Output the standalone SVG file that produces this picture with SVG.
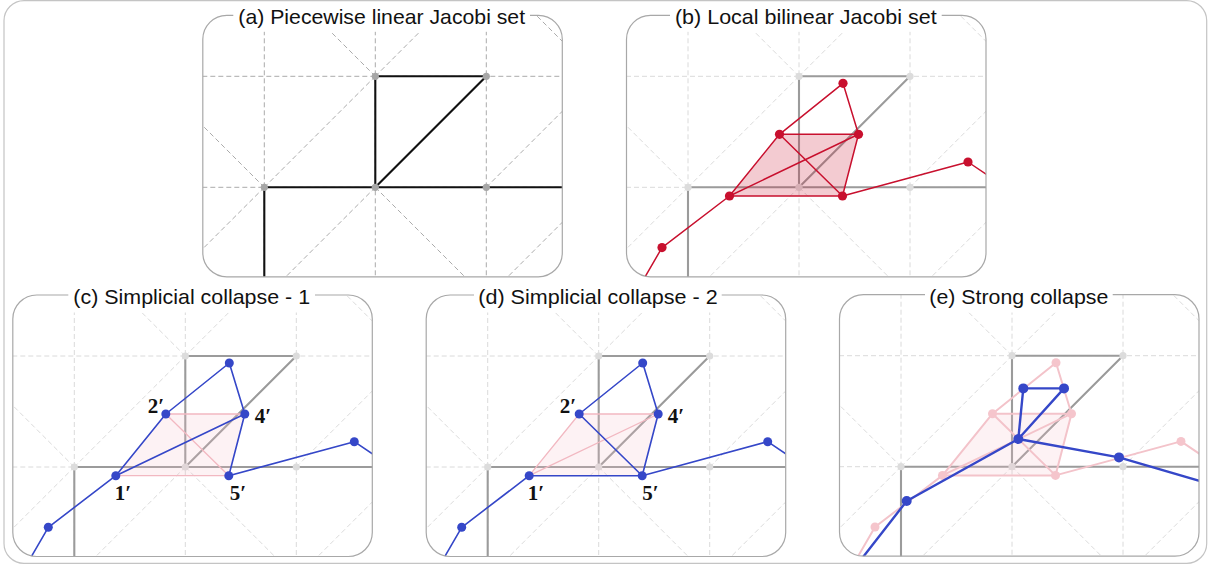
<svg xmlns="http://www.w3.org/2000/svg" xmlns:xlink="http://www.w3.org/1999/xlink" width="1211" height="572" viewBox="0 0 1211 572">
<style>
.t{font-family:"Liberation Sans",Arial,sans-serif;font-size:21px;fill:#111;text-anchor:middle}
.lbl{font-family:"Liberation Serif","Times New Roman",serif;font-weight:bold;font-size:21px;fill:#111}
.frame{fill:none;stroke:#a8a8a8;stroke-width:1.2}
.outer{fill:none;stroke:#c4c4c4;stroke-width:1.2}
.gap{fill:#fff}
.grid{fill:none;stroke-width:1;stroke-dasharray:5 3}
.jac{fill:none;stroke-width:2.1}
.red{fill:none;stroke:#c8102e;stroke-width:1.5}
.redfill{fill:#c8102e;fill-opacity:0.22;stroke:none}
.rn{fill:#c8102e}
.blue{fill:none;stroke:#3547c8;stroke-width:1.6}
.bn{fill:#3547c8}
.pink{fill:none;stroke:#f2b8c1;stroke-width:1.3}
.pinkfill{fill:#f4c0c8;fill-opacity:0.2;stroke:none}
.pinkfill2{fill:#f4c0c8;fill-opacity:0.2;stroke:none}
.pink2{fill:none;stroke:#f3c3ca;stroke-width:2}
.pn{fill:#f5c5cc}
.blue2{fill:none;stroke:#3547c8;stroke-width:2.4}
</style>
<defs>
<clipPath id="pc"><rect x="-61.5" y="-61" width="359.5" height="261.5" rx="24"/></clipPath>
<path id="gridlines" class="grid" d="M0,-70V210M111,-70V210M222,-70V210M-70,0H320M-70,111H320M0,-111L111,0M111,0L222,-111M222,-111L333,0M-111,0L0,111M0,111L111,0M111,111L222,0M222,111L333,0M-111,222L0,111M0,222L111,111M111,111L222,222M222,222L333,111"/>
<path id="jac" class="jac" d="M111,0H222M111,0V111M111,111L222,0M0,111H320M0,111V220"/>
<g id="gdots"><circle cx="111" cy="0" r="3.6"/><circle cx="222" cy="0" r="3.6"/><circle cx="0" cy="111" r="3.6"/><circle cx="111" cy="111" r="3.6"/><circle cx="222" cy="111" r="3.6"/></g>
<path id="quad" d="M91.5,58L170.5,58L154.5,119.7L41.5,119.7Z"/>
</defs>

<rect id="outer-frame" class="outer" x="4" y="0.6" width="1202.7" height="562.8" rx="20"/>

<g id="panel-a" transform="translate(264.3,76.3)">
<g clip-path="url(#pc)">
<use xlink:href="#gridlines" stroke="#ababab"/>
<use xlink:href="#jac" stroke="#111"/>
<use xlink:href="#gdots" fill="#a6a6a6"/>
</g>
<rect class="frame" x="-61.5" y="-61" width="359.5" height="261.5" rx="24"/>
<rect class="gap" x="-31" y="-71.3" width="296.7" height="26.8"/>
<text class="t" x="117.4" y="-52.3" textLength="286.7" lengthAdjust="spacingAndGlyphs">(a) Piecewise linear Jacobi set</text>
</g>

<g id="panel-b" transform="translate(688,76.3)">
<g clip-path="url(#pc)">
<use xlink:href="#gridlines" stroke="#dadada"/>
<use xlink:href="#jac" stroke="#9b9b9b"/>
<use xlink:href="#gdots" fill="#dcdcdc"/>
<use xlink:href="#quad" class="redfill"/>
<g id="b-connectors">
<path class="red" d="M155,7L91.5,58M155,7L170.5,58M91.5,58H170.5M91.5,58L41.5,119.7M91.5,58L154.5,119.7M170.5,58L41.5,119.7M170.5,58L154.5,119.7M41.5,119.7H154.5M154.5,119.7L280,85.7M280,85.7L310,105.8M41.5,119.7L-26,171.3M-26,171.3L-50,212.8"/>
</g>
<g id="b-nodes" class="rn">
<circle id="b-n1" cx="155" cy="7" r="4.6"/>
<circle id="b-n2" cx="91.5" cy="58" r="4.6"/>
<circle id="b-n3" cx="170.5" cy="58" r="4.6"/>
<circle id="b-n4" cx="41.5" cy="119.7" r="4.6"/>
<circle id="b-n5" cx="154.5" cy="119.7" r="4.6"/>
<circle id="b-n6" cx="280" cy="85.7" r="4.6"/>
<circle id="b-n7" cx="-26" cy="171.3" r="4.6"/>
</g>
</g>
<rect class="frame" x="-61.5" y="-61" width="359.5" height="261.5" rx="24"/>
<rect class="gap" x="-18" y="-71.3" width="271.7" height="26.8"/>
<text class="t" x="117.8" y="-52.3" textLength="261.7" lengthAdjust="spacingAndGlyphs">(b) Local bilinear Jacobi set</text>
</g>

<g id="panel-c" transform="translate(74.3,356)">
<g clip-path="url(#pc)">
<use xlink:href="#gridlines" stroke="#dadada"/>
<use xlink:href="#jac" stroke="#9b9b9b"/>
<use xlink:href="#gdots" fill="#dcdcdc"/>
<use xlink:href="#quad" class="pinkfill"/>
<g id="c-connectors">
<path class="pink" d="M91.5,58H170.5M91.5,58L154.5,119.7M41.5,119.7H154.5"/>
<path class="blue" d="M155,7L91.5,58M155,7L170.5,58M91.5,58L41.5,119.7M170.5,58L41.5,119.7M170.5,58L154.5,119.7M154.5,119.7L280,85.7M280,85.7L310,105.8M41.5,119.7L-26,171.3M-26,171.3L-50,212.8"/>
</g>
<g id="c-nodes" class="bn">
<circle id="c-n1" cx="155" cy="7" r="4.5"/>
<circle id="c-n2" cx="91.5" cy="58" r="4.5"/>
<circle id="c-n3" cx="170.5" cy="58" r="4.5"/>
<circle id="c-n4" cx="41.5" cy="119.7" r="4.5"/>
<circle id="c-n5" cx="154.5" cy="119.7" r="4.5"/>
<circle id="c-n6" cx="280" cy="85.7" r="4.5"/>
<circle id="c-n7" cx="-26" cy="171.3" r="4.5"/>
</g>
</g>
<text class="lbl" x="73.5" y="57">2′</text>
<text class="lbl" x="180.5" y="66.5">4′</text>
<text class="lbl" x="40.5" y="143.5">1′</text>
<text class="lbl" x="155.5" y="143.5">5′</text>
<rect class="frame" x="-61.5" y="-61" width="359.5" height="261.5" rx="24"/>
<rect class="gap" x="-6" y="-71" width="246.7" height="27.5"/>
<text class="t" x="117.4" y="-51.7" textLength="236.7" lengthAdjust="spacingAndGlyphs">(c) Simplicial collapse - 1</text>
</g>

<g id="panel-d" transform="translate(487.7,356)">
<g clip-path="url(#pc)">
<use xlink:href="#gridlines" stroke="#dadada"/>
<use xlink:href="#jac" stroke="#9b9b9b"/>
<use xlink:href="#gdots" fill="#dcdcdc"/>
<use xlink:href="#quad" class="pinkfill"/>
<g id="d-connectors">
<path class="pink" d="M91.5,58H170.5M91.5,58L41.5,119.7M170.5,58L41.5,119.7"/>
<path class="blue" d="M155,7L91.5,58M155,7L170.5,58M91.5,58L154.5,119.7M170.5,58L154.5,119.7M41.5,119.7H154.5M154.5,119.7L280,85.7M280,85.7L310,105.8M41.5,119.7L-26,171.3M-26,171.3L-50,212.8"/>
</g>
<g id="d-nodes" class="bn">
<circle id="d-n1" cx="155" cy="7" r="4.5"/>
<circle id="d-n2" cx="91.5" cy="58" r="4.5"/>
<circle id="d-n3" cx="170.5" cy="58" r="4.5"/>
<circle id="d-n4" cx="41.5" cy="119.7" r="4.5"/>
<circle id="d-n5" cx="154.5" cy="119.7" r="4.5"/>
<circle id="d-n6" cx="280" cy="85.7" r="4.5"/>
<circle id="d-n7" cx="-26" cy="171.3" r="4.5"/>
</g>
</g>
<text class="lbl" x="72" y="57">2′</text>
<text class="lbl" x="180" y="66.5">4′</text>
<text class="lbl" x="40" y="143.5">1′</text>
<text class="lbl" x="154.5" y="143.5">5′</text>
<rect class="frame" x="-61.5" y="-61" width="359.5" height="261.5" rx="24"/>
<rect class="gap" x="-13.7" y="-71" width="247.7" height="27.5"/>
<text class="t" x="110.3" y="-51.7" textLength="239.4" lengthAdjust="spacingAndGlyphs">(d) Simplicial collapse - 2</text>
</g>

<g id="panel-e" transform="translate(901,355.7)">
<g clip-path="url(#pc)">
<use xlink:href="#gridlines" stroke="#dadada"/>
<use xlink:href="#jac" stroke="#9b9b9b"/>
<use xlink:href="#gdots" fill="#dcdcdc"/>
<use xlink:href="#quad" class="pinkfill2"/>
<g id="e-faded">
<path class="pink2" d="M155,7L91.5,58M155,7L170.5,58M91.5,58H170.5M91.5,58L41.5,119.7M91.5,58L154.5,119.7M170.5,58L41.5,119.7M170.5,58L154.5,119.7M41.5,119.7H154.5M154.5,119.7L280,85.7M280,85.7L310,105.8M41.5,119.7L-26,171.3M-26,171.3L-50,212.8"/>
<g class="pn">
<circle cx="155" cy="7" r="4.5"/><circle cx="91.5" cy="58" r="4.5"/><circle cx="170.5" cy="58" r="4.5"/><circle cx="41.5" cy="119.7" r="4.5"/><circle cx="154.5" cy="119.7" r="4.5"/><circle cx="280" cy="85.7" r="4.5"/><circle cx="-26" cy="171.3" r="4.5"/>
</g>
</g>
<g id="e-connectors">
<path class="blue2" d="M122.3,32.7H163M122.3,32.7L117.3,83.3M163,32.7L117.3,83.3M117.3,83.3L218,101.7M218,101.7L315,129.9M117.3,83.3L5.7,145.3M5.7,145.3L-45,210.4"/>
</g>
<g id="e-nodes" class="bn">
<circle id="e-n1" cx="122.3" cy="32.7" r="5"/>
<circle id="e-n2" cx="163" cy="32.7" r="5"/>
<circle id="e-n3" cx="117.3" cy="83.3" r="5"/>
<circle id="e-n4" cx="218" cy="101.7" r="5"/>
<circle id="e-n5" cx="5.7" cy="145.3" r="5"/>
</g>
</g>
<rect class="frame" x="-61.5" y="-61" width="359.5" height="261.5" rx="24"/>
<rect class="gap" x="24" y="-70.7" width="187.7" height="27.5"/>
<text class="t" x="117.8" y="-51.4" textLength="179" lengthAdjust="spacingAndGlyphs">(e) Strong collapse</text>
</g>
</svg>
